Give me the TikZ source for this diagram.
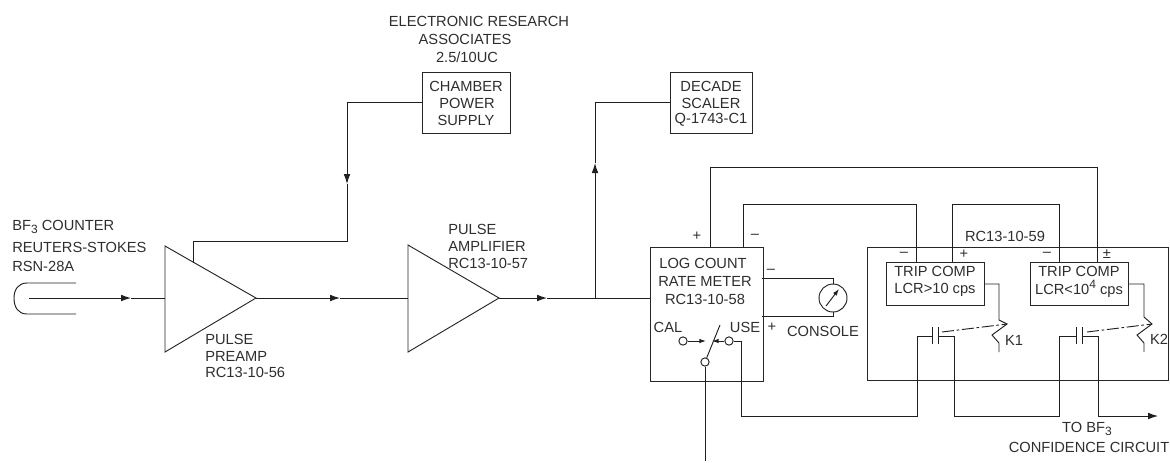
\documentclass[tikz,border=0pt]{standalone}
\usepackage{fontspec}
\setmainfont{Liberation Sans}
\usetikzlibrary{arrows.meta}
\newcommand{\lowsub}[1]{\raisebox{-0.35ex}{\fontsize{9}{10}\selectfont #1}}
\newcommand{\highsup}[1]{\raisebox{0.7ex}{\fontsize{9}{10}\selectfont #1}}
\tikzset{
  wire/.style={line width=0.7pt,black!88},
  boxline/.style={line width=0.7pt,black!85},
  tip/.style={wire,-{Latex[length=7.5pt,width=5pt]}},
  smalltip/.style={wire,-{Latex[length=5pt,width=3.4pt]}},
  lbl/.style={inner sep=0pt,text=black!82,font=\fontsize{11}{12}\selectfont},
  lblw/.style={lbl,anchor=west},
  sbox/.style={boxline,draw,inner sep=0pt,anchor=north west},
  term/.style={circle,draw,wire,inner sep=0pt,minimum size=6.2pt,fill=white},
  pt/.style={inner sep=0pt,minimum size=0pt}
}
\begin{document}
\begin{tikzpicture}[x=0.75pt,y=-0.75pt]
\useasboundingbox (0,0) rectangle (1170,462);
% boxes
\node[sbox,minimum width=66pt,minimum height=45.75pt] (chamber) at (422,72) {};
\node[sbox,minimum width=61.5pt,minimum height=45.75pt] (decade) at (670,72) {};
\node[sbox,minimum width=84.75pt,minimum height=100.5pt] (meter) at (649.5,247) {};
\node[sbox,minimum width=225.75pt,minimum height=99.75pt] (unit) at (867,247) {};
\node[sbox,minimum width=73.5pt,minimum height=32.25pt] (comp1) at (886,262) {};
\node[sbox,minimum width=73.5pt,minimum height=32.25pt] (comp2) at (1030,262) {};
% triangles
\coordinate (preT) at (165,246); \coordinate (preB) at (165,352); \coordinate (preTip) at (256,298);
\coordinate (ampT) at (408,245); \coordinate (ampB) at (408,352); \coordinate (ampTip) at (499,298);
\draw[boxline,line join=miter] (preT) -- (preTip) -- (preB) -- cycle;
\draw[boxline,line join=miter] (ampT) -- (ampTip) -- (ampB) -- cycle;
\coordinate (preIn) at (165,298); \coordinate (ampIn) at (408,298);
% counter
\coordinate (cntTop) at (76,283); \coordinate (cntBot) at (76,314); \coordinate (cntCore) at (29,298);
\draw[wire] (cntTop) -- (27,283) .. controls (18,283) and (14,290) .. (14,298) .. controls (14,307) and (18,314) .. (27,314) -- (cntBot);
\coordinate (a1) at (131,298);
\draw[tip] (cntCore) -- (a1); \draw[wire] (a1) -- (preIn);
\coordinate (a2) at (340,298);
\draw[tip] (preTip) -- (a2); \draw[wire] (a2) -- (ampIn);
\coordinate (a3) at (547,298); \coordinate (br) at (595,298); \coordinate (mtIn) at (649.5,298);
\draw[tip] (ampTip) -- (a3); \draw[wire] (a3) -- (mtIn);
% chamber feed
\coordinate (cOut) at (422,102); \coordinate (c1) at (347,102); \coordinate (a4) at (347,184); \coordinate (c2) at (347,241); \coordinate (c3) at (193,241); \coordinate (c4) at (193,263);
\draw[tip] (cOut) -- (c1) -- (a4); \draw[wire] (a4) -- (c2) -- (c3) -- (c4);
% scaler feed
\coordinate (a5) at (595,163); \coordinate (s1) at (595,102); \coordinate (sIn) at (670,102);
\draw[tip] (br) -- (a5); \draw[wire] (a5) -- (s1) -- (sIn);
% top wires
\coordinate (mP) at (710,247); \coordinate (mM) at (743,247);
\draw[wire] (mP) -- (710,167) -- (1097,167) -- (1097,262);
\draw[wire] (mM) -- (743,204) -- (916,204) -- (916,262);
\draw[wire] (952,262) -- (952,204) -- (1059,204) -- (1059,262);
% instrument
\node[circle,draw,wire,minimum size=21pt,inner sep=0pt] (gauge) at (833,298) {};
\coordinate (mU) at (762,278); \coordinate (mL) at (762,316);
\draw[wire] (mU) -- (833,278) -- (gauge.north);
\draw[wire] (mL) -- (833,316) -- (gauge.south);
\coordinate (nA) at (826,306); \coordinate (nB) at (839,289);
\draw[smalltip] (nA) -- (nB);
% switch
\node[term] (cal) at (683,341) {};
\node[term] (use) at (729,341) {};
\node[term] (pole) at (705,362) {};
\coordinate (blade) at (720,325);
\draw[wire] (pole) -- (blade);
\coordinate (calT) at (706,341); \coordinate (useT) at (712,341);
\draw[smalltip] (cal) -- (calT);
\draw[smalltip] (use) -- (useT);
\coordinate (poleEnd) at (705,461);
\draw[wire] (pole) -- (poleEnd);
% relay K1
\coordinate (k1a) at (999,284);
\draw[wire] (comp1.east |- k1a) -- (k1a) -- (999,320) -- (1007,324) -- (992,335) -- (999,343) -- (999,352);
% relay K2
\coordinate (k2a) at (1144,284);
\draw[wire] (comp2.east |- k2a) -- (k2a) -- (1144,317) -- (1152,324) -- (1137,335) -- (1144,343) -- (1144,352);
% contacts
\coordinate (p1) at (932,336); \coordinate (p2) at (938,336); \coordinate (p3) at (1076,336); \coordinate (p4) at (1082,336);
\draw[wire] (932,327) -- (932,344); \draw[wire] (938,327) -- (938,344);
\draw[wire] (1076,327) -- (1076,344); \draw[wire] (1082,327) -- (1082,344);
\draw[wire,dash pattern=on 9pt off 2pt on 2pt off 2pt] (942,332) -- (1007,324);
\draw[wire,dash pattern=on 9pt off 2pt on 2pt off 2pt] (1087,332) -- (1152,324);
\draw[wire] (use) -- (741,341) -- (741,416) -- (917,416) -- (917,336) -- (p1);
\draw[wire] (p2) -- (954,336) -- (954,416) -- (1059,416) -- (1059,336) -- (p3);
\coordinate (out) at (1158,416);
\draw[tip] (p4) -- (1098,336) -- (1098,416) -- (out);
% labels
\node[lbl] (t1) at (479,21) {ELECTRONIC RESEARCH};
\node[lbl] (t2) at (465,39) {ASSOCIATES};
\node[lbl] (t3) at (467,57) {2.5/10UC};
\node[lbl] (t4) at (466,86) {CHAMBER};
\node[lbl] (t5) at (467,103) {POWER};
\node[lbl] (t6) at (466,120) {SUPPLY};
\node[lbl] (t7) at (711,86) {DECADE};
\node[lbl] (t8) at (711,103) {SCALER};
\node[lbl] (t9) at (711,120) {Q-1743-C1};
\node[lblw] (t10) at (12,227) {BF\lowsub{3} COUNTER};
\node[lblw] (t11) at (12,247) {REUTERS-STOKES};
\node[lblw] (t12) at (12,266) {RSN-28A};
\node[lblw] (t13) at (205,339) {PULSE};
\node[lblw] (t14) at (205,356) {PREAMP};
\node[lblw] (t15) at (205,372) {RC13-10-56};
\node[lblw] (t16) at (448,229) {PULSE};
\node[lblw] (t17) at (448,246) {AMPLIFIER};
\node[lblw] (t18) at (448,263) {RC13-10-57};
\node[lbl] (t19) at (703,263) {LOG COUNT};
\node[lbl] (t20) at (705,281) {RATE METER};
\node[lbl] (t21) at (705,299) {RC13-10-58};
\node[lbl] (t22) at (668,327) {CAL};
\node[lbl] (t23) at (745,327) {USE};
\node[lbl] (t24) at (697,236) {+};
\node[lbl] (t25) at (755,236) {--};
\node[lbl] (t26) at (771,271) {--};
\node[lbl] (t27) at (772,327) {+};
\node[lbl] (t28) at (823,331) {CONSOLE};
\node[lbl] (t29) at (1005,236) {RC13-10-59};
\node[lbl] (t30) at (904,254) {--};
\node[lbl] (t31) at (964,254) {+};
\node[lbl] (t32) at (1047,254) {--};
\node[lbl] (t33) at (1107,254) {±};
\node[lbl] (t34) at (935,271) {TRIP COMP};
\node[lbl] (t35) at (935,290) {LCR>10 cps};
\node[lbl] (t36) at (1079,271) {TRIP COMP};
\node[lbl] (t37) at (1079,289) {LCR<10\highsup{4} cps};
\node[lbl] (t38) at (1014,340) {K1};
\node[lbl] (t39) at (1159,339) {K2};
\node[lbl] (t40) at (1087,429) {TO BF\lowsub{3}};
\node[lbl] (t41) at (1089,447) {CONFIDENCE CIRCUIT};
\end{tikzpicture}
\end{document}
